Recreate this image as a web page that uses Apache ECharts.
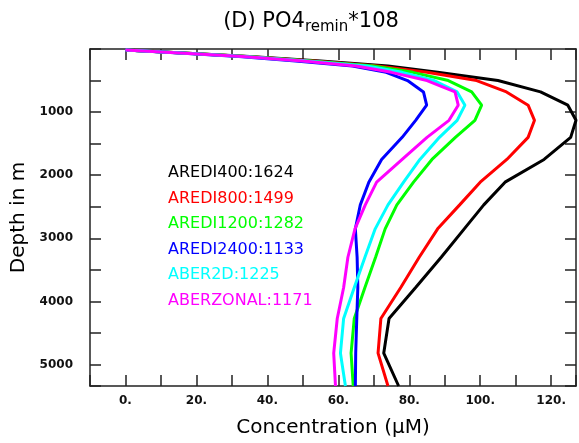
<!DOCTYPE html>
<html>
<head>
<meta charset="utf-8">
<script src="https://cdn.jsdelivr.net/npm/echarts@6/dist/echarts.min.js"></script>
<style>
html,body{margin:0;padding:0;background:#fff;}
#chart{width:579px;height:443px;}
</style>
</head>
<body>
<div id="chart"></div>
<script>
// ---- data ----
const depths = [15, 60, 120, 190, 270, 370, 500, 680, 890, 1130, 1400, 1750, 2110, 2470, 2850, 3300, 3780, 4270, 4820, 5340];
const seriesNames = ['AREDI400:1624', 'AREDI800:1499', 'AREDI1200:1282', 'AREDI2400:1133', 'ABER2D:1225', 'ABERZONAL:1171'];
const aredi400  = [0, 15, 35, 55, 74, 88, 105, 117, 124.7, 127, 125.5, 118, 107, 101, 95.5, 89, 81.8, 74.3, 72.8, 77];
const aredi800  = [0, 15, 34, 53, 71, 85, 99, 107.4, 113.5, 115.3, 113.5, 107.5, 100, 94.2, 88, 82.8, 77.6, 72, 71.2, 74];
const aredi1200 = [0, 14.5, 34, 52, 70, 81, 91, 97.6, 100.4, 98.5, 93, 86.4, 81.2, 76.5, 73.2, 70.5, 67.5, 64.5, 63.6, 64.2];
const aredi2400 = [0, 14, 32, 48, 64, 73.5, 79.5, 84, 84.9, 81.8, 78, 72.2, 68.6, 66.2, 64.8, 65.3, 65.5, 65.2, 64.9, 64.8];
const aber2d    = [0, 14.5, 33.5, 51, 68, 78, 87, 93.5, 95.7, 93.5, 88.5, 83, 78.4, 74, 70.4, 67.5, 64.5, 61.5, 60.6, 62];
const aberzonal = [0, 14, 33, 50, 65, 75, 85, 92.9, 93.8, 91.2, 85, 78, 70.8, 67.6, 64.7, 62.7, 61.5, 59.7, 58.7, 59.2];
const xTickLabels = [0, 20, 40, 60, 80, 100, 120];
const yTickLabels = [1000, 2000, 3000, 4000, 5000];

const allValues = [aredi400, aredi800, aredi1200, aredi2400, aber2d, aberzonal];
const colors = ['#000000', '#ff0000', '#00ff00', '#0000ff', '#00ffff', '#ff00ff'];

const chart = echarts.init(document.getElementById('chart'), null, {renderer: 'canvas'});
const axisCol = '#222';
const labelFont = {fontFamily: 'DejaVu Sans', fontSize: 12, fontWeight: 'bold', color: '#111'};
const lineStyleAxis = {color: axisCol, width: 1.5};

const series = allValues.map((vals, i) => ({
  name: seriesNames[i],
  type: 'line',
  data: vals.map((v, k) => [v, depths[k]]),
  symbol: 'none',
  clip: true,
  lineStyle: {color: colors[i], width: 3},
  itemStyle: {color: colors[i]},
  z: 2 + i
}));

const option = {
  animation: false,
  backgroundColor: '#fff',
  title: {
    text: '{a|(D) PO4}{s|remin}{a|*108}',
    left: 306,
    textAlign: 'center',
    top: 6,
    textStyle: {
      fontWeight: 'normal',
      rich: {
        a: {fontFamily: 'DejaVu Sans', fontSize: 21, fontWeight: 'normal', color: '#000', verticalAlign: 'top', lineHeight: 26},
        s: {fontFamily: 'DejaVu Sans', fontSize: 15, fontWeight: 'normal', color: '#000', verticalAlign: 'top', lineHeight: 26, padding: [9, 0, 0, 0]}
      }
    }
  },
  legend: {
    orient: 'vertical',
    left: 158,
    top: 160,
    icon: 'none',
    itemWidth: 0,
    itemHeight: 16,
    itemGap: 9.5,
    selectedMode: false,
    data: seriesNames.map((n, i) => ({name: n, textStyle: {color: colors[i]}})),
    textStyle: {fontFamily: 'DejaVu Sans', fontSize: 16, lineHeight: 16}
  },
  grid: {left: 90, right: 1, top: 49, bottom: 53, containLabel: false},
  xAxis: [{
    type: 'value', min: -10, max: 127, interval: 10, position: 'bottom',
    name: 'Concentration (\u03bcM)', nameLocation: 'middle', nameGap: 32,
    nameTextStyle: {fontFamily: 'DejaVu Sans', fontSize: 20, color: '#000'},
    axisLine: {show: true, onZero: false, lineStyle: lineStyleAxis},
    axisTick: {show: true, inside: true, length: 11, lineStyle: lineStyleAxis},
    axisLabel: Object.assign({margin: 9, formatter: v => xTickLabels.includes(v) ? v + '.' : ''}, labelFont),
    splitLine: {show: false}
  }, {
    type: 'value', min: -10, max: 127, interval: 10, position: 'top',
    axisLine: {show: true, onZero: false, lineStyle: lineStyleAxis},
    axisTick: {show: true, inside: true, length: 11, lineStyle: lineStyleAxis},
    axisLabel: {show: false},
    splitLine: {show: false}
  }],
  yAxis: [{
    type: 'value', min: 0, max: 5340, interval: 500, inverse: true, position: 'left',
    name: 'Depth in m', nameLocation: 'middle', nameGap: 46,
    nameTextStyle: {fontFamily: 'DejaVu Sans', fontSize: 20, color: '#000'},
    axisLine: {show: true, onZero: false, lineStyle: lineStyleAxis},
    axisTick: {show: true, inside: true, length: 11, lineStyle: lineStyleAxis},
    axisLabel: Object.assign({margin: 17, formatter: v => yTickLabels.includes(v) ? String(v) : ''}, labelFont),
    splitLine: {show: false}
  }, {
    type: 'value', min: 0, max: 5340, interval: 500, inverse: true, position: 'right',
    axisLine: {show: true, onZero: false, lineStyle: lineStyleAxis},
    axisTick: {show: true, inside: true, length: 11, lineStyle: lineStyleAxis},
    axisLabel: {show: false},
    splitLine: {show: false}
  }],
  series: series
};
chart.setOption(option);
</script>
</body>
</html>
